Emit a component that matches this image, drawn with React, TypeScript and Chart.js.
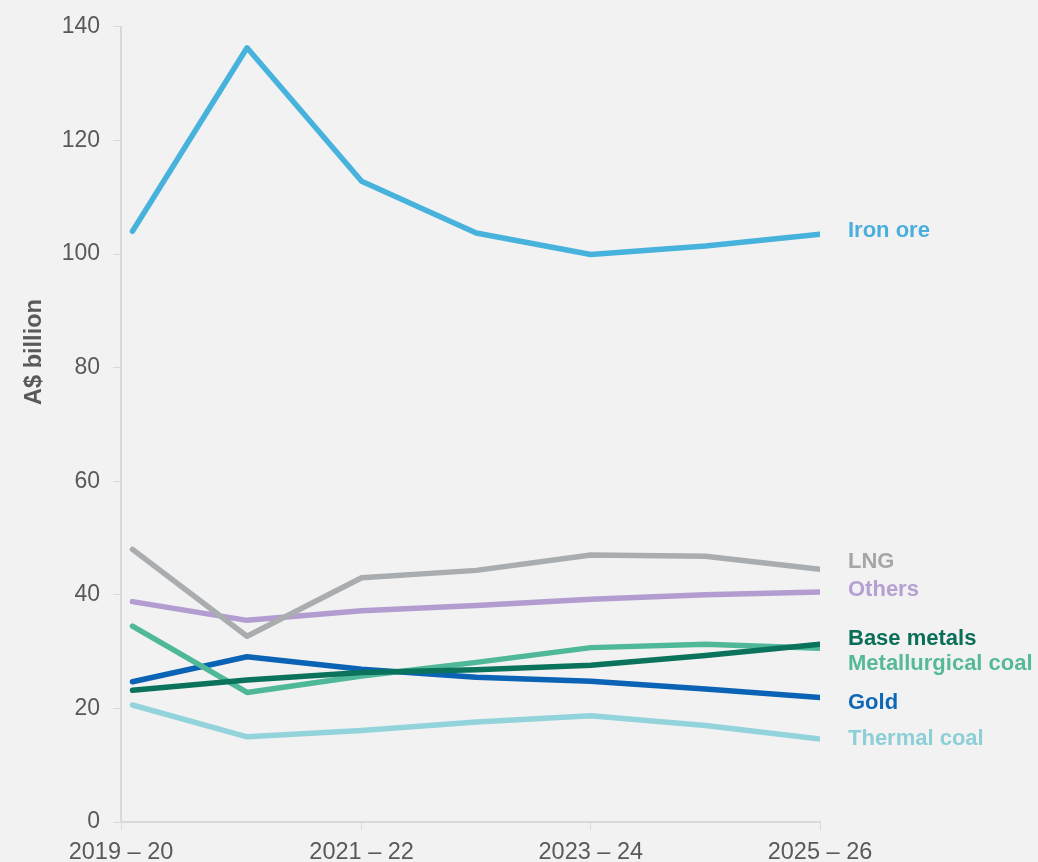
import React, { useEffect, useRef } from "react";
import { Chart, registerables } from "chart.js";

Chart.register(...registerables);

const years = ["2019 – 20", "2020 – 21", "2021 – 22", "2022 – 23", "2023 – 24", "2024 – 25", "2025 – 26"];
const tickPositions = [-0.1, 2, 4, 6];
const yTicks = [0, 20, 40, 60, 80, 100, 120, 140];

const seriesNames = ["Iron ore", "LNG", "Others", "Base metals", "Metallurgical coal", "Gold", "Thermal coal"];
const ironOre = [104.0, 136.3, 112.8, 103.7, 99.9, 101.4, 103.5];
const lng = [48.0, 32.7, 43.0, 44.3, 47.0, 46.8, 44.5];
const others = [38.8, 35.5, 37.2, 38.1, 39.2, 40.0, 40.5];
const baseMetals = [23.2, 25.0, 26.3, 26.8, 27.6, 29.3, 31.3];
const metCoal = [34.5, 22.8, 25.7, 28.1, 30.7, 31.3, 30.6];
const gold = [24.7, 29.1, 26.9, 25.5, 24.8, 23.4, 21.9];
const thermalCoal = [20.6, 15.0, 16.1, 17.6, 18.7, 17.0, 14.6];

const lineColors = ["#47b3dc", "#a9adb0", "#b29cd0", "#0b735c", "#4eb898", "#0b63b5", "#93d4dc"];
const labelColors = ["#4aafdc", "#a6a6a6", "#b59fd3", "#0b6e58", "#55b99a", "#0f67b8", "#8ccfd6"];
// label anchor values (data units) for the end-of-line labels
const labelValues = [104.1, 45.8, 40.9, 32.3, 27.9, 20.9, 14.6];

const yTitle = "A$ billion";

const FONT = "'Liberation Sans', Arial, sans-serif";

export default function App() {
  const ref = useRef<HTMLCanvasElement | null>(null);

  useEffect(() => {
    const canvas = ref.current;
    if (!canvas) return;
    const allSeries = [ironOre, lng, others, baseMetals, metCoal, gold, thermalCoal];

    const labelPlugin = {
      id: "endLabels",
      afterDraw(chart: any) {
        const ctx = chart.ctx;
        const yScale = chart.scales.y;
        ctx.save();
        ctx.font = `bold 22px ${FONT}`;
        ctx.textAlign = "left";
        ctx.textBaseline = "middle";
        seriesNames.forEach((name, i) => {
          ctx.fillStyle = labelColors[i];
          ctx.fillText(name, 848, yScale.getPixelForValue(labelValues[i]));
        });
        // y-axis title
        ctx.translate(35, 352);
        ctx.rotate(-Math.PI / 2);
        ctx.textAlign = "center";
        ctx.font = `bold 23.5px ${FONT}`;
        ctx.fillStyle = "#595959";
        ctx.fillText(yTitle, 0, 0);
        ctx.restore();
      },
    };

    const chart = new Chart(canvas, {
      type: "line",
      data: {
        datasets: allSeries.map((vals, i) => ({
          label: seriesNames[i],
          data: vals.map((v, j) => ({ x: j, y: v })),
          borderColor: lineColors[i],
          backgroundColor: lineColors[i],
          borderWidth: 5.5,
          pointRadius: 0,
          tension: 0,
          borderCapStyle: "round",
          borderJoinStyle: "round",
        })),
      },
      options: {
        responsive: false,
        animation: false,
        devicePixelRatio: 1,
        layout: { padding: { top: 25, right: 218, left: 0, bottom: 0 } },
        plugins: { legend: { display: false }, tooltip: { enabled: false } },
        scales: {
          x: {
            type: "linear",
            min: -0.1,
            max: 6,
            afterBuildTicks(scale: any) {
              scale.ticks = tickPositions.map((v) => ({ value: v }));
            },
            afterFit(scale: any) {
              scale.height = 40;
            },
            ticks: {
              autoSkip: false,
              maxRotation: 0,
              padding: 8,
              color: "#595959",
              font: { family: FONT, size: 23.5 },
              callback: (v: any) => years[Math.max(0, Math.round(Number(v)))],
            },
            grid: {
              drawOnChartArea: false,
              drawTicks: true,
              tickLength: 8,
              color: "#d9d9d9",
              tickColor: "#d9d9d9",
            },
            border: { color: "#d9d9d9", width: 2 },
          },
          y: {
            min: 0,
            max: 140,
            afterBuildTicks(scale: any) {
              scale.ticks = yTicks.map((v) => ({ value: v }));
            },
            afterFit(scale: any) {
              scale.width = 121;
            },
            ticks: {
              padding: 13,
              color: "#595959",
              font: { family: FONT, size: 23 },
            },
            grid: {
              drawOnChartArea: false,
              drawTicks: true,
              tickLength: 8,
              color: "#d9d9d9",
              tickColor: "#d9d9d9",
            },
            border: { color: "#d9d9d9", width: 2 },
          },
        },
      },
      plugins: [labelPlugin],
    });
    return () => chart.destroy();
  }, []);

  return (
    <div style={{ position: "fixed", left: 0, top: 0, width: 1038, height: 862, background: "#f2f2f2" }}>
      <canvas ref={ref} width={1038} height={862} style={{ width: 1038, height: 862, display: "block" }} />
    </div>
  );
}
